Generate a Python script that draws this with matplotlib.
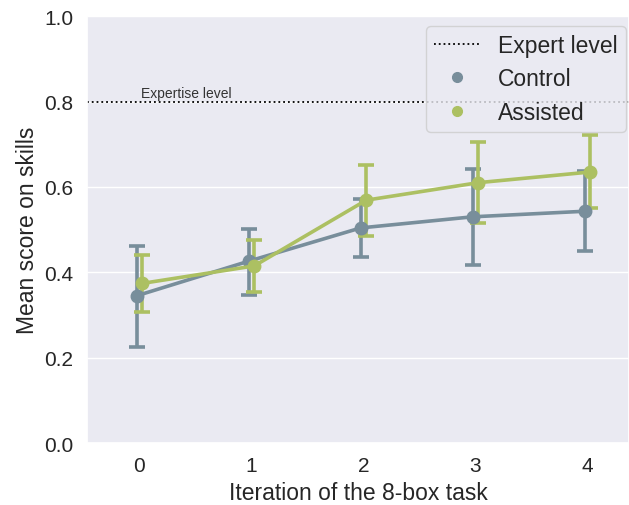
import matplotlib
matplotlib.use("Agg")
import matplotlib.pyplot as plt
import seaborn as sns
from matplotlib.lines import Line2D

sns.set_theme(style="darkgrid")
plt.rcParams['font.family'] = ['Liberation Sans', 'DejaVu Sans']

iterations = [0, 1, 2, 3, 4]
control_mean = [0.345, 0.426, 0.504, 0.530, 0.543]
control_lo = [0.224, 0.347, 0.436, 0.418, 0.450]
control_hi = [0.462, 0.501, 0.571, 0.642, 0.638]
assisted_mean = [0.374, 0.415, 0.569, 0.610, 0.635]
assisted_lo = [0.306, 0.353, 0.486, 0.515, 0.550]
assisted_hi = [0.441, 0.476, 0.651, 0.705, 0.722]
expert_level = 0.8

c_control = '#788e9b'
c_assisted = '#acc062'

fig = plt.figure(figsize=(6.29, 5.06), dpi=100)
ax = fig.add_axes([0.138, 0.1225, 0.862, 0.8435])

def draw(means, lo, hi, color, off, label):
    xs = [i + off for i in iterations]
    yerr = [[m - l for m, l in zip(means, lo)], [h - m for m, h in zip(means, hi)]]
    ax.errorbar(xs, means, yerr=yerr, color=color, lw=2.6, elinewidth=2.6,
                capsize=6, capthick=2.6, marker='o', markersize=9, label=label, zorder=3)

draw(control_mean, control_lo, control_hi, c_control, -0.025, 'Control')
draw(assisted_mean, assisted_lo, assisted_hi, c_assisted, 0.025, 'Assisted')

ax.axhline(expert_level, color='black', ls=':', lw=1.3, zorder=2)
ax.text(0.01, expert_level + 0.004, 'Expertise level', fontsize=10, color='#333333',
        va='bottom', ha='left')

ax.set_xlim(-0.47, 4.37)
ax.set_ylim(0, 1.0)
ax.set_xticks(iterations)
ax.set_yticks([0, 0.2, 0.4, 0.6, 0.8, 1.0])
ax.set_yticklabels(['0.0', '0.2', '0.4', '0.6', '0.8', '1.0'])
ax.tick_params(labelsize=15, labelcolor='#262626')
ax.set_xlabel('Iteration of the 8-box task', fontsize=16.5, color='#262626', labelpad=4)
ax.set_ylabel('Mean score on skills', fontsize=16.5, color='#262626', labelpad=4)
ax.grid(axis='x', visible=False)

handles = [Line2D([0], [0], color='black', ls=':', lw=1.3),
           Line2D([0], [0], color=c_control, marker='o', ls='', markersize=7),
           Line2D([0], [0], color=c_assisted, marker='o', ls='', markersize=7)]
leg = ax.legend(handles, ['Expert level', 'Control', 'Assisted'], loc='upper right',
                bbox_to_anchor=(0.9945, 0.977),
                fontsize=16.5, frameon=True, borderaxespad=0.0, labelspacing=0.45,
                borderpad=0.35)
for t in leg.get_texts():
    t.set_color('#262626')

fig.savefig('out.png', dpi=100)
